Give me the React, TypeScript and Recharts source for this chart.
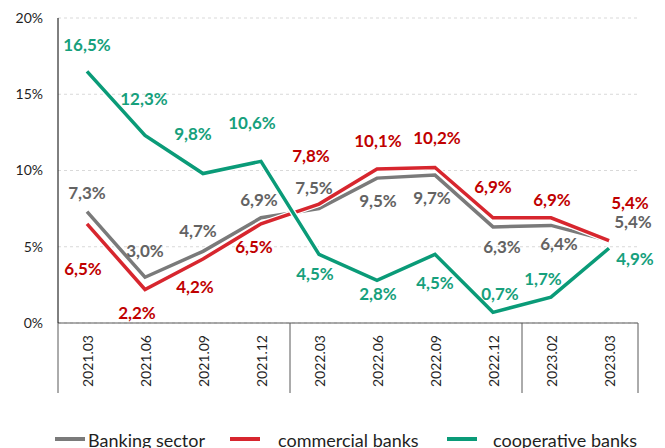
import React from "react";
import {
  CartesianGrid,
  LabelList,
  Legend,
  Line,
  LineChart,
  XAxis,
  YAxis,
} from "recharts";

const categories = [
  "2021.03", "2021.06", "2021.09", "2021.12", "2022.03",
  "2022.06", "2022.09", "2022.12", "2023.02", "2023.03",
];
const bankingSector = [7.3, 3.0, 4.7, 6.9, 7.5, 9.5, 9.7, 6.3, 6.4, 5.4];
const commercialBanks = [6.5, 2.2, 4.2, 6.5, 7.8, 10.1, 10.2, 6.9, 6.9, 5.4];
const cooperativeBanks = [16.5, 12.3, 9.8, 10.6, 4.5, 2.8, 4.5, 0.7, 1.7, 4.9];
const yTicks = [0, 5, 10, 15, 20];
// index of the last category in each year group (separator drawn after it)
const groupEnds = [3, 7, 9];

const data = categories.map((name, i) => ({
  name,
  sector: bankingSector[i],
  commercial: commercialBanks[i],
  cooperative: cooperativeBanks[i],
}));

const FONT = "Lato, 'Open Sans', sans-serif";
const GRAY = "#7a7a7a";
const RED = "#d7262e";
const GREEN = "#0a9b78";

// label nudges (dx, dy) from each point, like hand-placed excel labels
const sectorNudge = [[0, -19], [0, -27], [-5, -21], [-2, -18], [-5, -21], [1, 22], [-3, 22], [9, 20], [8, 18], [24, -19]];
const commercialNudge = [[-4, 45], [-8, 23], [-8, 28], [-7, 23], [-8, -49], [1, -28], [2, -30], [0, -31], [1, -18], [21, -38]];
const cooperativeNudge = [[0, -27], [-1, -37], [-10, -40], [-9, -39], [-4, 19], [1, 13], [0, 28], [7, -19], [-8, -19], [26, 10]];

const fmt = (v: number) => v.toFixed(1).replace(".", ",") + "%";

const makeLabel = (nudge: number[][], color: string) => (props: any) => {
  const { x, y, value, index } = props;
  const [dx, dy] = nudge[index] || [0, -15];
  return (
    <text
      x={Number(x) + dx}
      y={Number(y) + dy}
      textAnchor="middle"
      dominantBaseline="central"
      fill={color}
      fontFamily={FONT}
      fontWeight={700}
      fontSize={17}
    >
      {fmt(Number(value))}
    </text>
  );
};

const XTick = (props: any) => {
  const { x, y, payload, index } = props;
  const half = payload?.offset || 29;
  const lines: number[] = [];
  if (index === 0) lines.push(x - half);
  if (groupEnds.includes(index)) lines.push(x + half);
  return (
    <g>
      {lines.map((lx) => (
        <line key={lx} x1={lx} x2={lx} y1={y} y2={y + 70} stroke="#595959" strokeWidth={1} />
      ))}
      <text
        x={x}
        y={y + 12}
        transform={`rotate(-90, ${x}, ${y + 12})`}
        textAnchor="end"
        dominantBaseline="central"
        fill="#1f1f1f"
        fontFamily={FONT}
        fontSize={14}
      >
        {payload.value}
      </text>
    </g>
  );
};

const legendItems = [
  { name: "Banking sector", color: GRAY, line: 55, text: 88 },
  { name: "commercial banks", color: RED, line: 230, text: 278 },
  { name: "cooperative banks", color: GREEN, line: 447, text: 493 },
];

const ChartLegend = () => (
  <div style={{ position: "relative", width: 665, height: 24, fontFamily: FONT, fontSize: 18, color: "#1f1f1f" }}>
    {legendItems.map((it) => (
      <React.Fragment key={it.name}>
        <div style={{ position: "absolute", left: it.line, top: 13, width: 30, height: 4, background: it.color }} />
        <div style={{ position: "absolute", left: it.text, top: 6, whiteSpace: "nowrap", lineHeight: "20px" }}>{it.name}</div>
      </React.Fragment>
    ))}
  </div>
);

export default function App() {
  return (
    <div style={{ width: 665, height: 448, background: "#fff", overflow: "hidden" }}>
      <style>{`body{margin:0}`}</style>
      <LineChart width={665} height={448} data={data} margin={{ top: 18, right: 27, bottom: 0, left: 0 }}>
        <CartesianGrid vertical={false} stroke="#d9d9d9" strokeDasharray="3 3" />
        <XAxis
          dataKey="name"
          scale="band"
          height={101}
          interval={0}
          tickLine={false}
          tickSize={0}
          tickMargin={0}
          axisLine={{ stroke: "#595959" }}
          tick={<XTick />}
        />
        <YAxis
          domain={[0, 20]}
          ticks={yTicks}
          width={58}
          tickLine={false}
          tickSize={0}
          tickMargin={15}
          axisLine={{ stroke: "#000" }}
          tickFormatter={(v) => `${v}%`}
          tick={{ fill: "#1f1f1f", fontFamily: FONT, fontSize: 14 }}
        />
        <Legend verticalAlign="bottom" content={() => <ChartLegend />} wrapperStyle={{ left: 0, width: 665 }} />

        <Line dataKey="sector" stroke="#fff" strokeWidth={6} dot={false} legendType="none" isAnimationActive={false} />
        <Line dataKey="sector" stroke={GRAY} strokeWidth={3.5} dot={false} isAnimationActive={false}>
          <LabelList dataKey="sector" content={makeLabel(sectorNudge, "#636363")} />
        </Line>
        <Line dataKey="commercial" stroke="#fff" strokeWidth={6} dot={false} legendType="none" isAnimationActive={false} />
        <Line dataKey="commercial" stroke={RED} strokeWidth={3.5} dot={false} isAnimationActive={false}>
          <LabelList dataKey="commercial" content={makeLabel(commercialNudge, "#c00000")} />
        </Line>
        <Line dataKey="cooperative" stroke="#fff" strokeWidth={6} dot={false} legendType="none" isAnimationActive={false} />
        <Line dataKey="cooperative" stroke={GREEN} strokeWidth={3.5} dot={false} isAnimationActive={false}>
          <LabelList dataKey="cooperative" content={makeLabel(cooperativeNudge, "#16a07c")} />
        </Line>
      </LineChart>
    </div>
  );
}
